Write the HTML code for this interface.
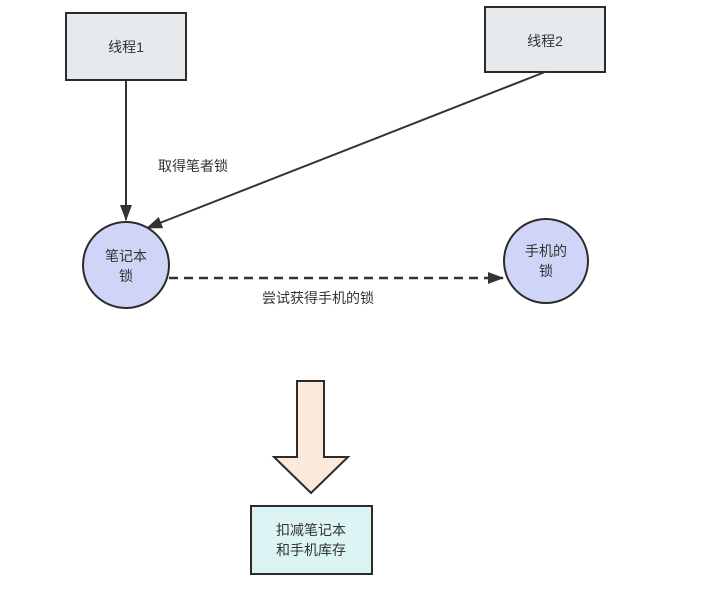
<!DOCTYPE html>
<html><head><meta charset="utf-8"><style>
body{margin:0;background:#fff;}
svg text{font-family:"Liberation Sans","Noto Sans CJK SC",sans-serif;font-size:14px;fill:#333;}
</style></head><body>
<svg width="726" height="598" xmlns="http://www.w3.org/2000/svg">
<defs><marker id="a" markerWidth="10" markerHeight="10" refX="9" refY="5" orient="auto" markerUnits="userSpaceOnUse"><path d="M0,0 L10,5 L0,10 z" fill="#333"/></marker>
<marker id="b" markerWidth="16" markerHeight="12" refX="15" refY="6" orient="auto" markerUnits="userSpaceOnUse"><path d="M0,0 L16,6 L0,12 z" fill="#333"/></marker></defs>
<rect x="66" y="13" width="120" height="67" fill="#e7eaec" stroke="#2b2b2b" stroke-width="2"/>
<text x="126" y="52" text-anchor="middle">线程1</text>
<rect x="485" y="7" width="120" height="65" fill="#e7eaec" stroke="#2b2b2b" stroke-width="2"/>
<text x="545" y="46" text-anchor="middle">线程2</text>
<line x1="126" y1="81" x2="126" y2="220" stroke="#333" stroke-width="2" marker-end="url(#b)"/>
<line x1="545" y1="72" x2="147" y2="228" stroke="#333" stroke-width="2" marker-end="url(#b)"/>
<text x="158" y="171">取得笔者锁</text>
<circle cx="126" cy="265" r="43" fill="#d0d5f7" stroke="#2b2b2b" stroke-width="2"/>
<text x="126" y="261" text-anchor="middle">笔记本</text>
<text x="126" y="281" text-anchor="middle">锁</text>
<circle cx="546" cy="261" r="42" fill="#d0d5f7" stroke="#2b2b2b" stroke-width="2"/>
<text x="546" y="256" text-anchor="middle">手机的</text>
<text x="546" y="276" text-anchor="middle">锁</text>
<line x1="169" y1="278" x2="503" y2="278" stroke="#333" stroke-width="2.5" stroke-dasharray="9,6" marker-end="url(#b)"/>
<text x="262" y="303">尝试获得手机的锁</text>
<path d="M297,381 H324 V457 H348 L311,493 L274,457 H297 Z" fill="#fbe9dc" stroke="#2b2b2b" stroke-width="2"/>
<rect x="251" y="506" width="121" height="68" fill="#dcf4f4" stroke="#2b2b2b" stroke-width="2"/>
<text x="311" y="535" text-anchor="middle">扣减笔记本</text>
<text x="311" y="555" text-anchor="middle">和手机库存</text>
</svg>
</body></html>
